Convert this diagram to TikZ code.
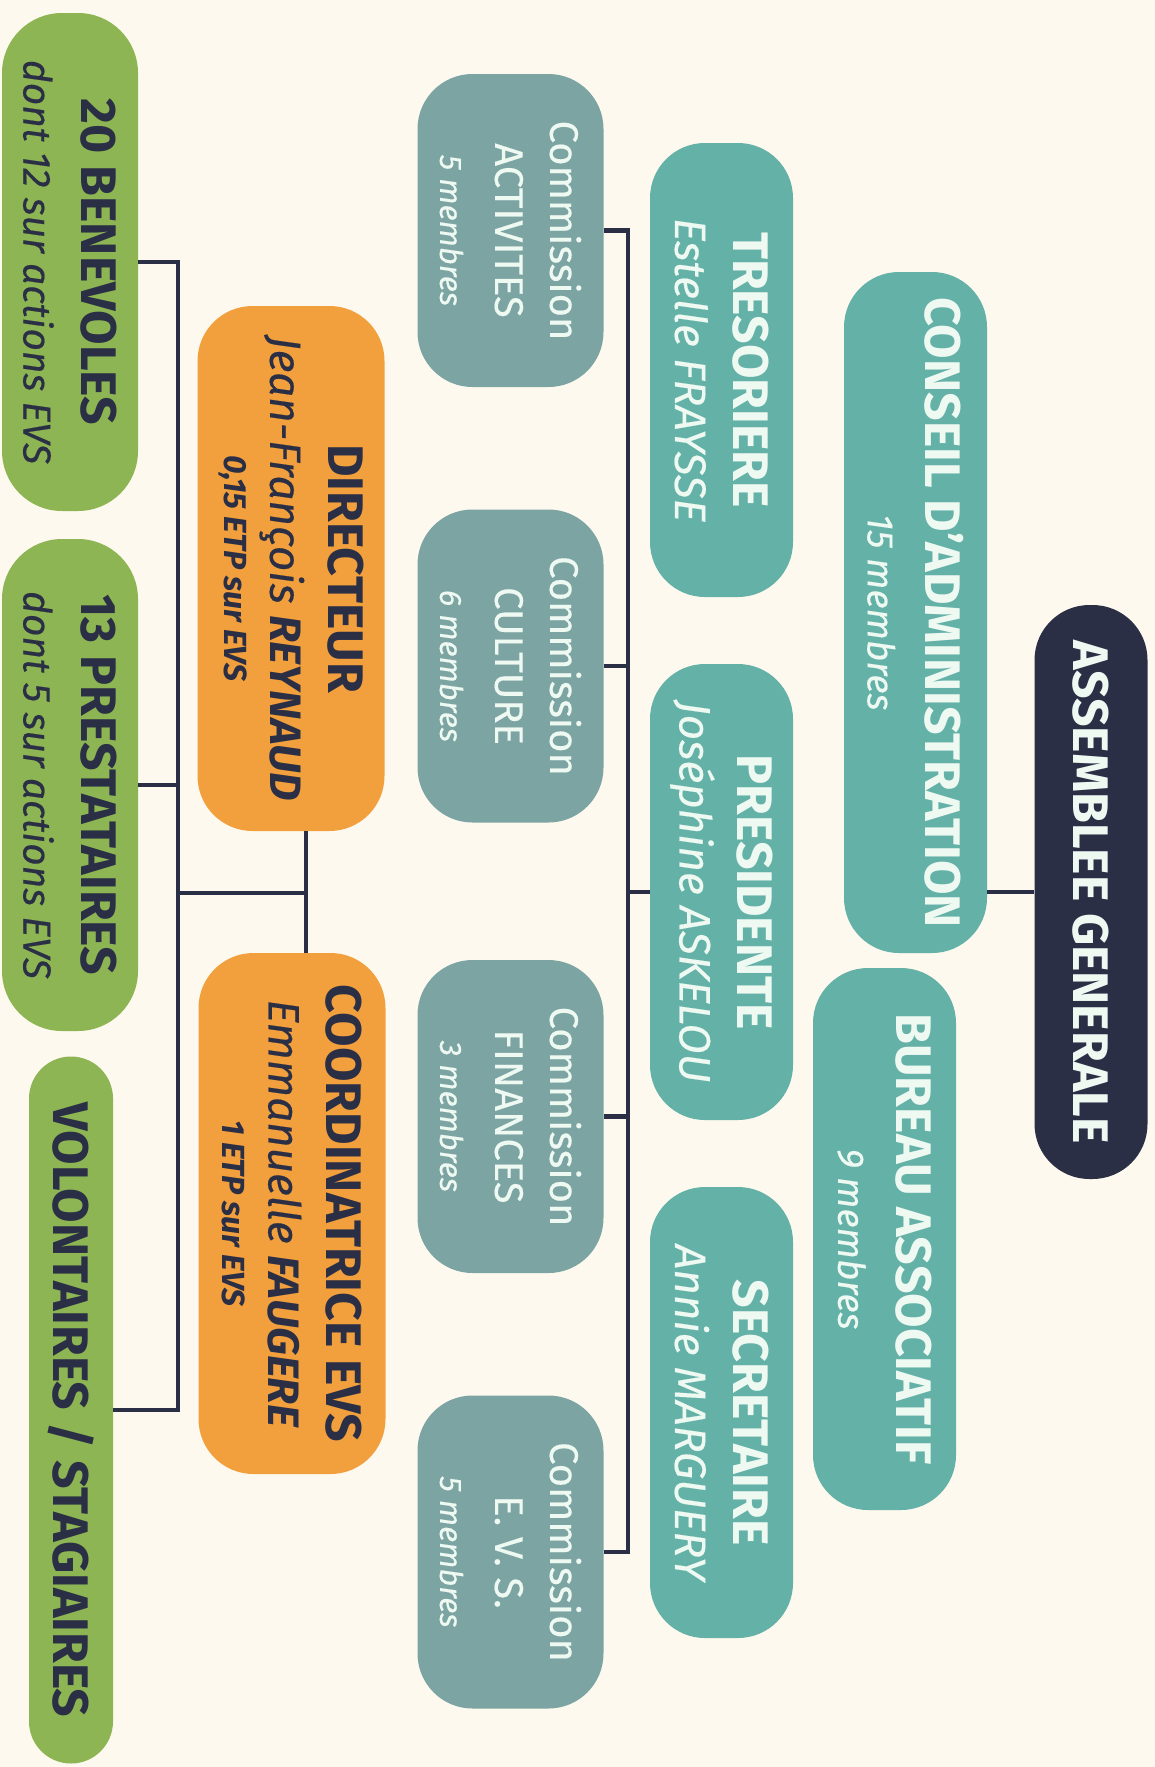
\documentclass[tikz,border=0pt]{standalone}
\usepackage{fontspec}
\setmainfont{Fira Sans}
\newfontfamily\medfont{Fira Sans}[FakeBold=0.35]
\usetikzlibrary{positioning}

\definecolor{bgcream}{HTML}{FEF9EE}
\definecolor{navy}{HTML}{2A2F46}
\definecolor{tealbox}{HTML}{63B1A7}
\definecolor{commgrey}{HTML}{7CA4A3}
\definecolor{orangebox}{HTML}{F2A03D}
\definecolor{greenbox}{HTML}{8DB553}
\definecolor{paletext}{HTML}{EEF9F2}

% text lines inside the boxes
\newcommand{\titre}[1]{{\fontsize{50}{58}\selectfont\bfseries #1}}
\newcommand{\nom}[1]{{\medfont\fontsize{44}{58}\selectfont\itshape #1}}
\newcommand{\effectif}[1]{{\medfont\fontsize{37}{58}\selectfont\itshape #1}}
\newcommand{\comm}[1]{{\medfont\fontsize{40}{55}\selectfont #1}}
\newcommand{\etp}[1]{{\fontsize{32}{46}\selectfont\bfseries\itshape #1}}

\begin{document}
\begin{tikzpicture}[x=1pt, y=-1pt, line join=miter,
    box/.style={rotate=-90, rounded corners=55pt, inner sep=0pt, align=center,
      font=\fontsize{44}{58}\selectfont},
    agbox/.style={box, fill=navy, text=paletext, minimum height=113pt},
    instancebox/.style={box, fill=tealbox, text=paletext, minimum height=143pt},
    rolebox/.style={box, fill=tealbox, text=paletext, minimum height=143pt},
    commbox/.style={box, fill=commgrey, text=paletext, minimum height=186pt,
      minimum width=313pt, font=\fontsize{40}{55}\selectfont},
    staffbox/.style={box, fill=orangebox, text=navy, minimum height=187pt},
    teambox/.style={box, fill=greenbox, text=navy, minimum height=136pt, rounded corners=60pt},
    lien/.style={draw=navy, line width=4.5pt}]

  % Background and page size
  \fill[bgcream] (0,0) rectangle (1155,1767);

  % Define the two vertical buses
  \def\busC{628} % bus of the commissions
  \def\busS{178} % bus of the staff
  \coordinate (jct) at (306,893); % junction directeur / coordinatrice

  % Instances
  \node[agbox, minimum width=574pt] (ag) at (1091,892) {\titre{ASSEMBLEE GENERALE}};
  \node[instancebox, minimum width=681pt] (ca) at (915.5,612.5)
    {\titre{CONSEIL D'ADMINISTRATION}\\\effectif{15 membres}};
  \node[instancebox, minimum width=542pt] (bureau) at (884.5,1239)
    {\titre{BUREAU ASSOCIATIF}\\\effectif{9 membres}};

  % Bureau members
  \node[rolebox, minimum width=454pt] (treso) at (721.5,370)
    {\titre{TRESORIERE}\\\nom{Estelle FRAYSSE}};
  \node[rolebox, minimum width=456pt] (pres) at (721.5,892)
    {\titre{PRESIDENTE}\\\nom{Joséphine ASKELOU}};
  \node[rolebox, minimum width=451pt] (secr) at (721.5,1412.5)
    {\titre{SECRETAIRE}\\\nom{Annie MARGUERY}};

  % Commissions
  \node[commbox] (activ) at (510.5,230.5)
    {\comm{Commission}\\\comm{ACTIVITES}\\\effectif{\fontsize{31}{55}\selectfont 5 membres}};
  \node[commbox] (cult) at (510.5,666)
    {\comm{Commission}\\\comm{CULTURE}\\\effectif{\fontsize{31}{55}\selectfont 6 membres}};
  \node[commbox] (fin) at (510.5,1116.5)
    {\comm{Commission}\\\comm{FINANCES}\\\effectif{\fontsize{31}{55}\selectfont 3 membres}};
  \node[commbox] (cevs) at (510.5,1552)
    {\comm{Commission}\\\comm{E. V. S.}\\\effectif{\fontsize{31}{55}\selectfont 5 membres}};

  % Salaried staff
  \node[staffbox, minimum width=525pt] (dir) at (291,568.5)
    {\titre{DIRECTEUR}\\\nom{Jean-François {\normalfont\bfseries\itshape REYNAUD}}\\[-12pt]\etp{0,15 ETP sur EVS}};
  \node[staffbox, minimum width=521pt] (coord) at (292,1213.5)
    {\titre{COORDINATRICE EVS}\\\nom{Emmanuelle {\normalfont\bfseries\itshape FAUGERE}}\\[-12pt]\etp{1 ETP sur EVS}};

  % Volunteers and others
  \node[teambox, minimum width=498pt] (benev) at (70,262)
    {\titre{20 BENEVOLES}\\\nom{\fontsize{39}{58}\selectfont dont 12 sur actions EVS}};
  \node[teambox, minimum width=492pt] (prest) at (70,785)
    {\titre{13 PRESTATAIRES}\\\nom{\fontsize{39}{58}\selectfont dont 5 sur actions EVS}};
  \node[teambox, minimum width=707pt, minimum height=84pt, rounded corners=42pt] (volont) at (71,1410)
    {\titre{VOLONTAIRES / STAGIAIRES}};

  % Connectors
  \draw[lien] (ag.south) -- (ag.south -| ca.north);
  \draw[lien] (pres.south) -- (pres.south -| \busC,0);
  \draw[lien] (activ.north) -| (cevs.north -| \busC,0) -- (cevs.north);
  \foreach \c in {cult, fin}
    \draw[lien] (\c.north) -- (\c.north -| \busC,0);

  \draw[lien] (benev.north) -| (volont.north -| \busS,0) -- (volont.north);
  \draw[lien] (prest.north) -- (prest.north -| \busS,0);
  \draw[lien] (dir.east -| jct) -- (coord.west -| jct);
  \draw[lien] (jct) -- (jct -| \busS,0);

\end{tikzpicture}
\end{document}
